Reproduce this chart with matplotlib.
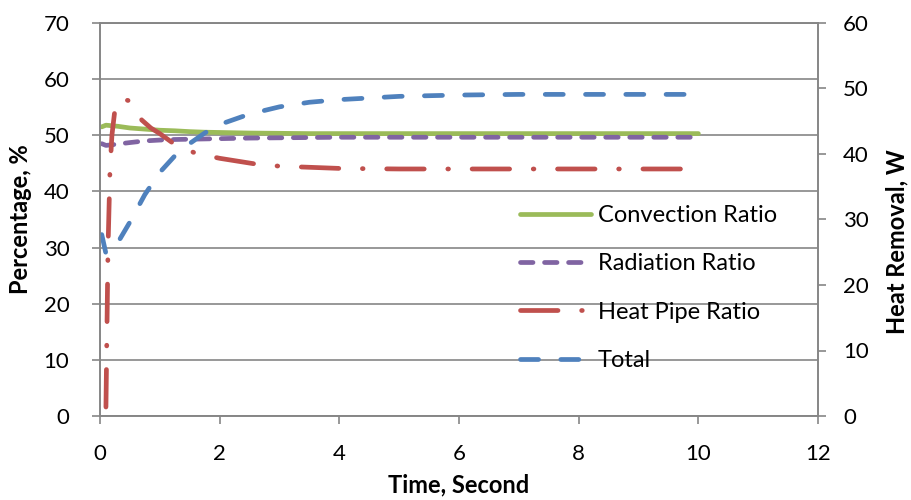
import matplotlib
matplotlib.use("Agg")
import matplotlib.pyplot as plt

plt.rcParams['font.family'] = ['Lato', 'DejaVu Sans']
plt.rcParams['lines.scale_dashes'] = False

# time, s
t = [0.03, 0.1, 0.2, 0.3, 0.5, 0.75, 1.0, 1.25, 1.5, 1.75, 2.0, 2.5, 3.0, 3.5,
     4.0, 5.0, 6.0, 7.0, 8.0, 9.0, 10.0]
convection = [51.5, 51.8, 51.7, 51.6, 51.3, 51.1, 50.9, 50.8, 50.65, 50.55, 50.5,
              50.4, 50.35, 50.3, 50.3, 50.3, 50.3, 50.3, 50.3, 50.3, 50.3]
radiation = [48.5, 48.2, 48.3, 48.45, 48.7, 49.0, 49.15, 49.25, 49.3, 49.35, 49.4,
             49.5, 49.55, 49.6, 49.65, 49.65, 49.65, 49.65, 49.65, 49.65, 49.65]
total = [27.7, 24.8, 25.4, 26.5, 29.6, 33.8, 37.2, 39.7, 41.6, 43.2, 44.5,
         46.1, 47.2, 47.9, 48.3, 48.8, 49.0, 49.1, 49.1, 49.1, 49.1]

# heat pipe ratio has its own time points
t_hp = [0.1, 0.134, 0.168, 0.2, 0.26, 0.35, 0.47, 0.6, 0.7, 0.85, 1.0, 1.26, 1.6,
        2.0, 2.65, 3.0, 3.5, 4.0, 5.0, 6.0, 7.0, 8.0, 9.0, 10.0]
heat_pipe = [1.6, 29.6, 44.0, 50.0, 55.5, 56.5, 56.2, 54.3, 52.7, 51.3, 50.3, 48.3,
             46.8, 45.9, 44.8, 44.5, 44.3, 44.1, 44.0, 44.0, 44.0, 44.0, 44.0, 44.0]

grey = '#868686'
fig = plt.figure(figsize=(9.12, 5.0), dpi=100)
ax = fig.add_axes([0.1096, 0.168, 0.7874, 0.786])
ax2 = ax.twinx()

lw = 3.4
l1, = ax.plot(t, convection, color='#9BBB59', lw=lw, solid_capstyle='round',
              label='Convection Ratio')
l2, = ax.plot(t, radiation, color='#8064A2', lw=lw, dash_capstyle='round',
              dashes=(9.0, 8.3), label='Radiation Ratio')
l3, = ax.plot(t_hp, heat_pipe, color='#C0504D', lw=lw, dash_capstyle='round',
              dashes=(27, 17, 0.5, 17), label='Heat Pipe Ratio')
l4, = ax2.plot(t, total, color='#4F81BD', lw=lw, dash_capstyle='round',
               dashes=(13, 16), label='Total')

ax.set_xlim(0, 12)
ax.set_ylim(0, 70)
ax2.set_ylim(0, 60)
ax.set_xticks(range(0, 13, 2))
ax.set_yticks(range(0, 71, 10))
ax2.set_yticks(range(0, 61, 10))

ax.grid(axis='y', color=grey, lw=1.2)
ax.set_axisbelow(True)
for a in (ax, ax2):
    for s in a.spines.values():
        s.set_color(grey)
        s.set_linewidth(1.2)
ax.tick_params(axis='both', colors=grey, labelcolor='black', labelsize=16,
               length=6, width=1.2)
ax.tick_params(axis='y', pad=16)
ax.tick_params(axis='x', pad=14)
ax2.tick_params(axis='y', colors=grey, labelcolor='black', labelsize=16,
                length=6, width=1.2, pad=12)

ax.set_xlabel('Time, Second', fontsize=17, fontweight='bold')
ax.set_ylabel('Percentage, %', fontsize=17, fontweight='bold')
ax2.set_ylabel('Heat Removal, W', fontsize=17, fontweight='bold')
ax.xaxis.label.set_va('center')
ax.yaxis.label.set_va('center')
ax2.yaxis.label.set_va('center')
ax.xaxis.set_label_coords(0.5, -0.176)
ax.yaxis.set_label_coords(-0.111, 0.5)
ax2.yaxis.set_label_coords(1.11, 0.444)

ax2.legend(handles=[l1, l2, l3, l4], loc='upper left',
           bbox_to_anchor=(0.585, 0.537), frameon=False, fontsize=17,
           handlelength=3.0, handletextpad=0.3, labelspacing=1.16,
           borderpad=0, borderaxespad=0)

fig.savefig('out.png', dpi=100)
